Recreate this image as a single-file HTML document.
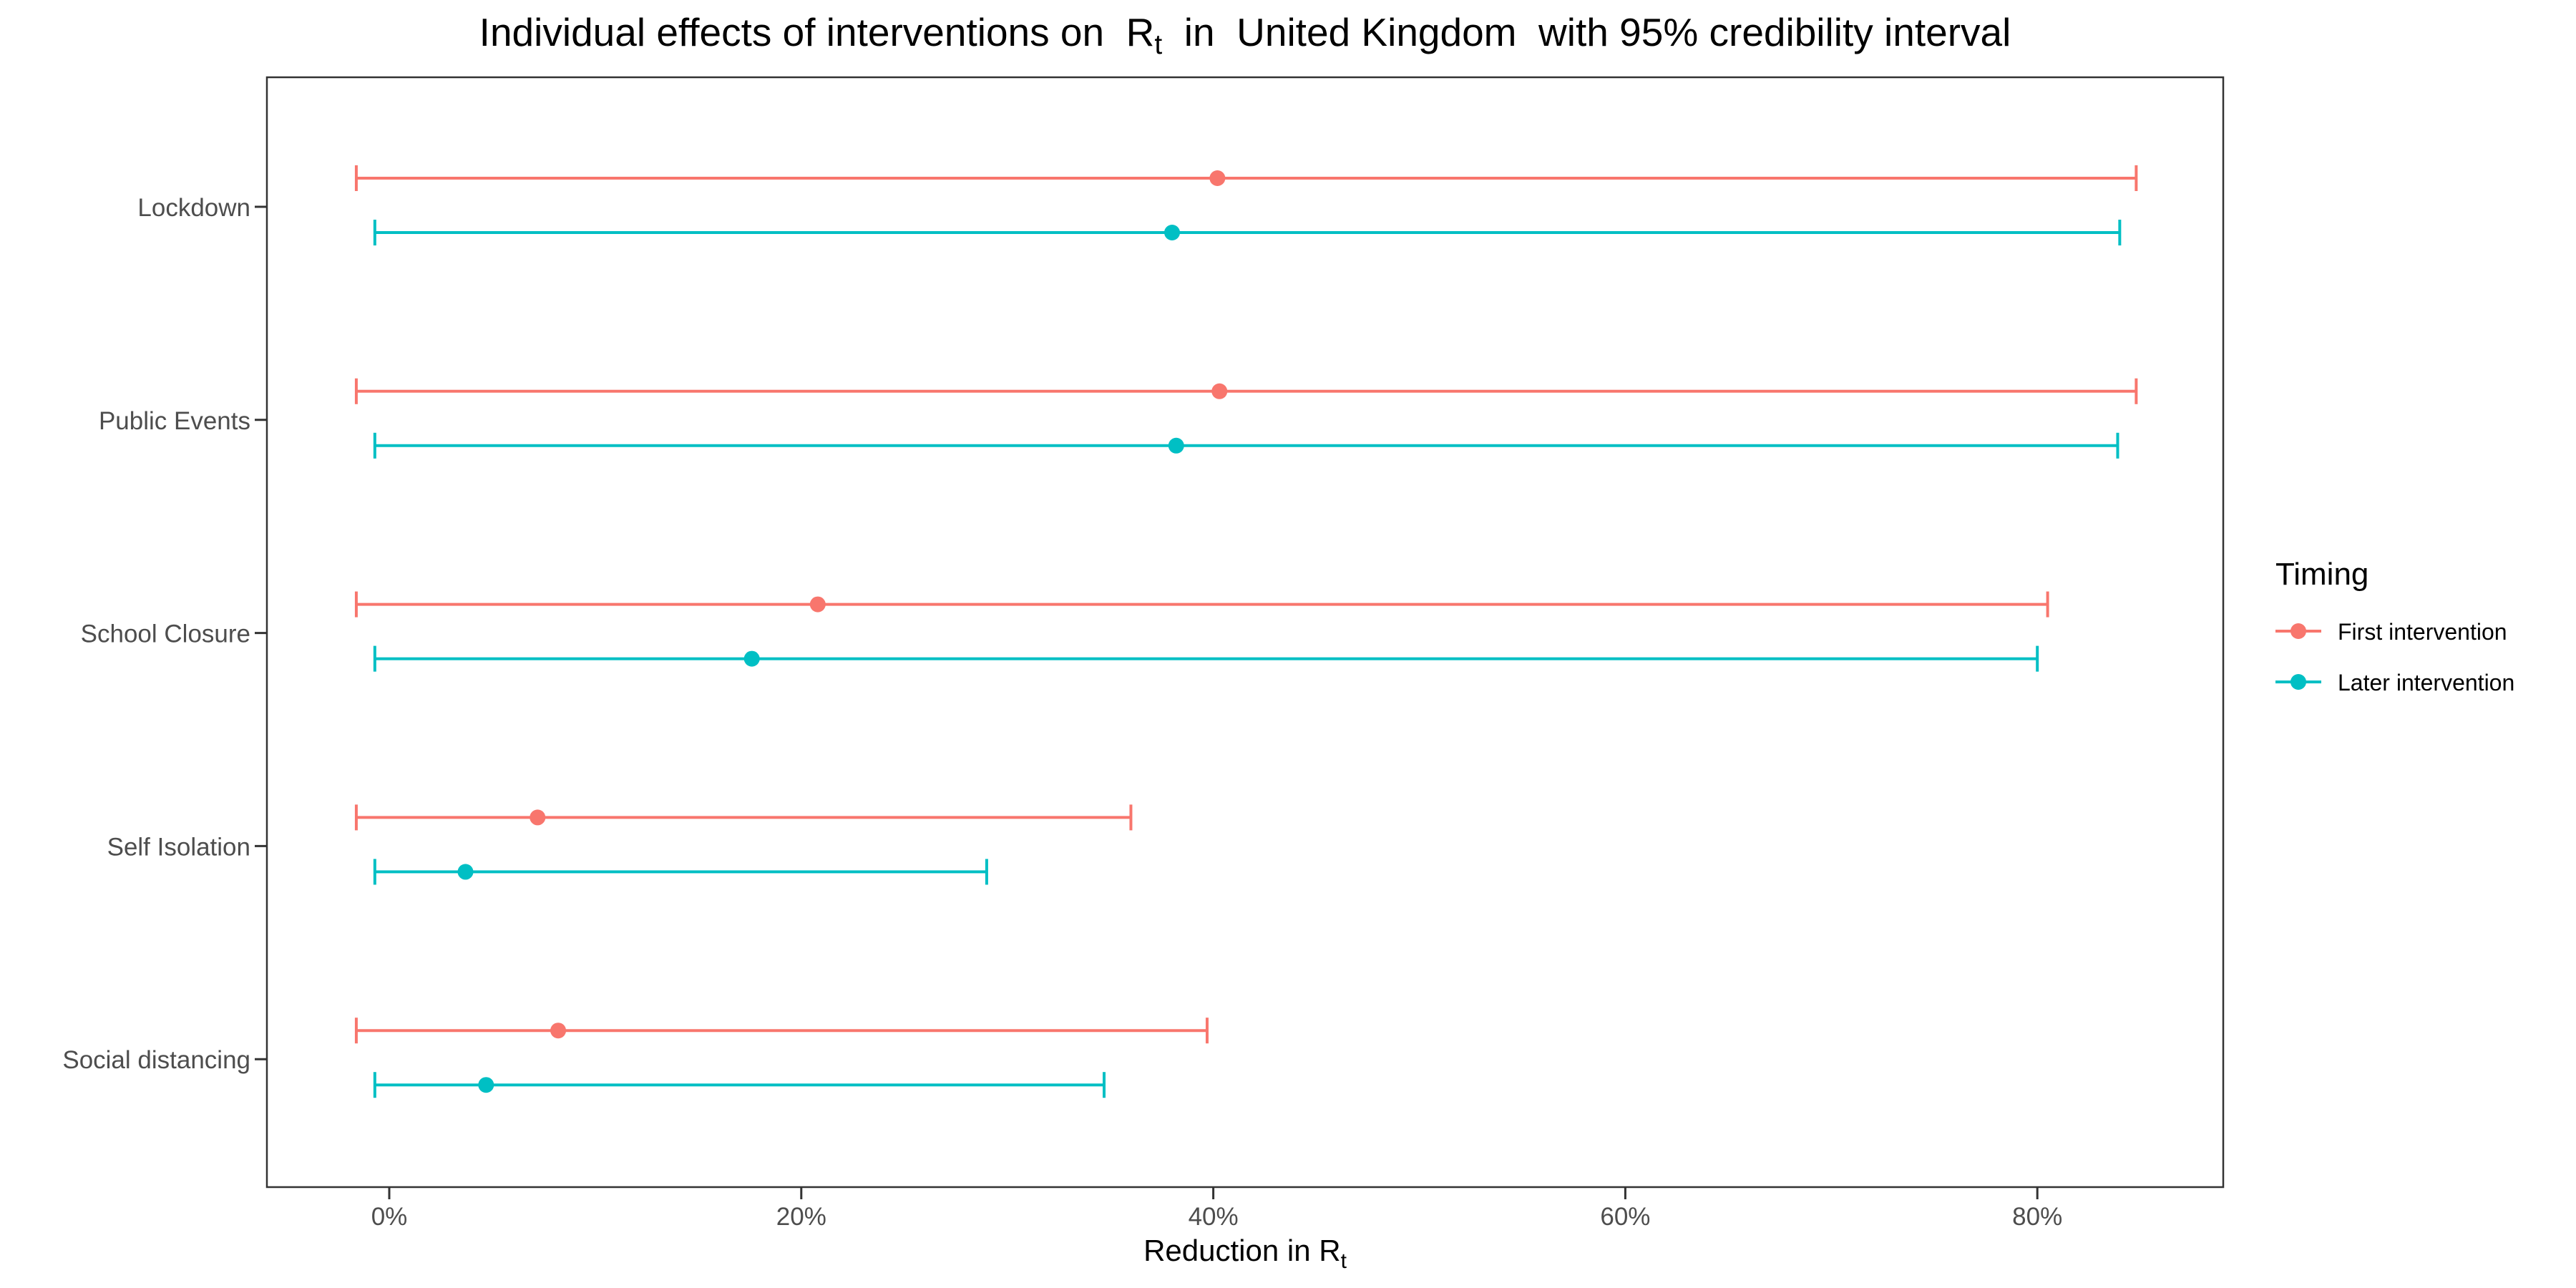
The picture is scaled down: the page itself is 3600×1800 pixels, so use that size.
<!DOCTYPE html>
<html><head><meta charset="utf-8"><style>
html,body{margin:0;padding:0;background:#fff;}
svg{display:block;font-family:"Liberation Sans",Arial,sans-serif;}
text{white-space:pre;}
</style></head><body>
<svg id="chart" width="3600" height="1800" viewBox="0 0 3600 1800" xmlns="http://www.w3.org/2000/svg" xml:space="preserve">
<rect x="0" y="0" width="3600" height="1800" fill="#fff"/>
<text x="1740" y="64" font-size="55" text-anchor="middle" fill="#000">Individual effects of interventions on  R<tspan font-size="39" dy="11">t</tspan><tspan dy="-11">  in  United Kingdom  with 95% credibility interval</tspan></text>
<g id="plot"></g>
<rect x="373" y="108" width="2734" height="1551" fill="none" stroke="#333" stroke-width="2.5"/>
<text x="1740" y="1762" font-size="42" text-anchor="middle" fill="#000">Reduction in R<tspan font-size="30" dy="10">t</tspan></text>
<g>
<text x="3180" y="817" font-size="44" fill="#000">Timing</text>
<g>
<line x1="3180" y1="882" x2="3244" y2="882" stroke="#F8766D" stroke-width="4"/>
<circle cx="3212" cy="882" r="11" fill="#F8766D"/>
<text x="3267" y="894" font-size="32" fill="#000">First intervention</text>
</g>
<g>
<line x1="3180" y1="953" x2="3244" y2="953" stroke="#00BFC4" stroke-width="4"/>
<circle cx="3212" cy="953" r="11" fill="#00BFC4"/>
<text x="3267" y="965" font-size="32" fill="#000">Later intervention</text>
</g>
</g>
</svg>
<script>
const categories = ["Lockdown","Public Events","School Closure","Self Isolation","Social distancing"];
const firstLow  = [-1.6,-1.6,-1.6,-1.6,-1.6];
const firstMid  = [40.2,40.3,20.8,7.2,8.2];
const firstHigh = [84.8,84.8,80.5,36.0,39.7];
const laterLow  = [-0.7,-0.7,-0.7,-0.7,-0.7];
const laterMid  = [38.0,38.2,17.6,3.7,4.7];
const laterHigh = [84.0,83.9,80.0,29.0,34.7];
const xTicks = [0,20,40,60,80];
const xTickLabels = ["0%","20%","40%","60%","80%"];

const NS="http://www.w3.org/2000/svg";
const g=document.getElementById('plot');
function xs(v){return 544+28.79*v;}
function ys(i){return 289+297.8*i;}
function mk(tag,attrs){const e=document.createElementNS(NS,tag);for(const k in attrs)e.setAttribute(k,attrs[k]);g.appendChild(e);return e;}

xTicks.forEach((t,i)=>{
  const l=mk('line',{x1:xs(t),x2:xs(t),y1:1659,y2:1676,stroke:'#333','stroke-width':3});
  
  
  const tx=mk('text',{x:xs(t),y:1712,'font-size':35,'text-anchor':'middle',fill:'#4d4d4d'});
  tx.textContent=xTickLabels[i];
  
  
});
categories.forEach((c,i)=>{
  const l=mk('line',{x1:356,x2:373,y1:ys(i),y2:ys(i),stroke:'#333','stroke-width':3});
  
  
  const tx=mk('text',{x:350,y:ys(i)+13,'font-size':35,'text-anchor':'end',fill:'#4d4d4d'});
  tx.textContent=c;
  
  
});
function series(lo,mid,hi,col,off,name){
  categories.forEach((c,i)=>{
    const y=ys(i)+off;
    const grp=mk('g',{});
    
    
    const parts=[
      ['line',{x1:xs(lo[i]),x2:xs(hi[i]),y1:y,y2:y}],
      ['line',{x1:xs(lo[i]),x2:xs(lo[i]),y1:y-18,y2:y+18}],
      ['line',{x1:xs(hi[i]),x2:xs(hi[i]),y1:y-18,y2:y+18}]
    ];
    parts.forEach(p=>{const e=document.createElementNS(NS,p[0]);for(const k in p[1])e.setAttribute(k,p[1][k]);e.setAttribute('stroke',col);e.setAttribute('stroke-width',4);grp.appendChild(e);});
    const cc=document.createElementNS(NS,'circle');
    cc.setAttribute('cx',xs(mid[i]));cc.setAttribute('cy',y);cc.setAttribute('r',11);cc.setAttribute('fill',col);
    grp.appendChild(cc);
  });
}
series(firstLow,firstMid,firstHigh,'#F8766D',-40,'first-intervention');
series(laterLow,laterMid,laterHigh,'#00BFC4',36,'later-intervention');
</script>
</body></html>
